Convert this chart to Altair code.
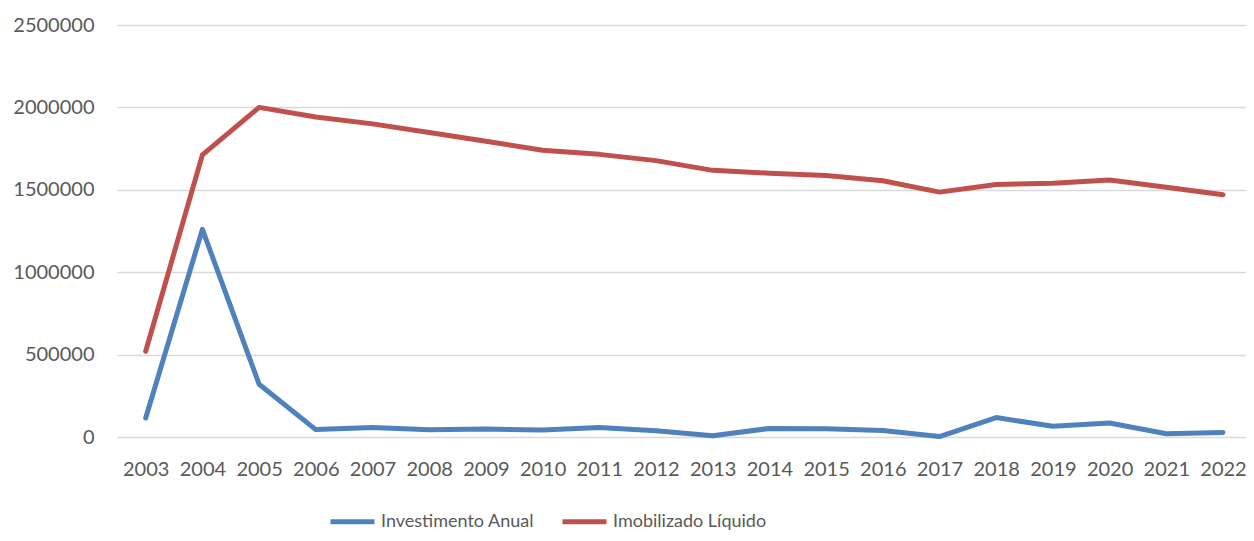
import altair as alt
import pandas as pd

years = [str(y) for y in range(2003, 2023)]
investimento = [115000, 1260000, 320000, 45000, 57000, 44000, 48000, 43000, 57000, 38000,
                8000, 52000, 50000, 40000, 3000, 118000, 65000, 85000, 20000, 28000]
imobilizado = [520000, 1712000, 2000000, 1942000, 1900000, 1848000, 1795000, 1740000, 1715000, 1677000,
               1618000, 1601000, 1587000, 1555000, 1486000, 1532000, 1540000, 1560000, 1516000, 1470000]
series_names = ["Investimento Anual", "Imobilizado Líquido"]
series_colors = ["#4F81BD", "#C0504D"]
y_ticks = [0, 500000, 1000000, 1500000, 2000000, 2500000]

rows = []
for name, vals in zip(series_names, [investimento, imobilizado]):
    for yr, v in zip(years, vals):
        rows.append({"Ano": yr, "Valor": v, "Serie": name})
df = pd.DataFrame(rows)

FONT = "Lato"
TEXT = "#595959"

chart = alt.Chart(df).mark_line(strokeWidth=5, strokeCap="round", strokeJoin="round").encode(
    x=alt.X("Ano:O", sort=years, title=None,
            scale=alt.Scale(type="point", padding=0.456, align=0.555),
            axis=alt.Axis(labelAngle=0, ticks=False, domain=False, grid=False,
                          labelFont=FONT, labelFontSize=20, labelColor=TEXT,
                          labelPadding=22)),
    y=alt.Y("Valor:Q", title=None,
            scale=alt.Scale(domain=[0, 2500000], nice=False),
            axis=alt.Axis(values=y_ticks, format="d", ticks=False, domain=False,
                          grid=True, gridColor="#D9D9D9", gridWidth=1.5,
                          labelFont=FONT, labelFontSize=20, labelColor=TEXT,
                          labelPadding=23)),
    color=alt.Color("Serie:N", sort=series_names,
                    scale=alt.Scale(domain=series_names, range=series_colors),
                    legend=alt.Legend(title=None, orient="none", direction="horizontal",
                                      legendX=211, legendY=472,
                                      symbolType="stroke", symbolSize=1936,
                                      symbolStrokeWidth=5, labelOffset=4,
                                      columnPadding=17, labelFont=FONT,
                                      labelFontSize=18, labelColor=TEXT,
                                      labelLimit=400)),
    order=alt.Order("Ano:O"),
).properties(
    width=1129, height=412,
    autosize=alt.AutoSizeParams(type="none"),
    padding={"left": 109, "top": 17, "right": 0, "bottom": 96},
).configure_view(stroke=None)

chart.save("out.html", embed_options={"renderer": "svg", "actions": False})
